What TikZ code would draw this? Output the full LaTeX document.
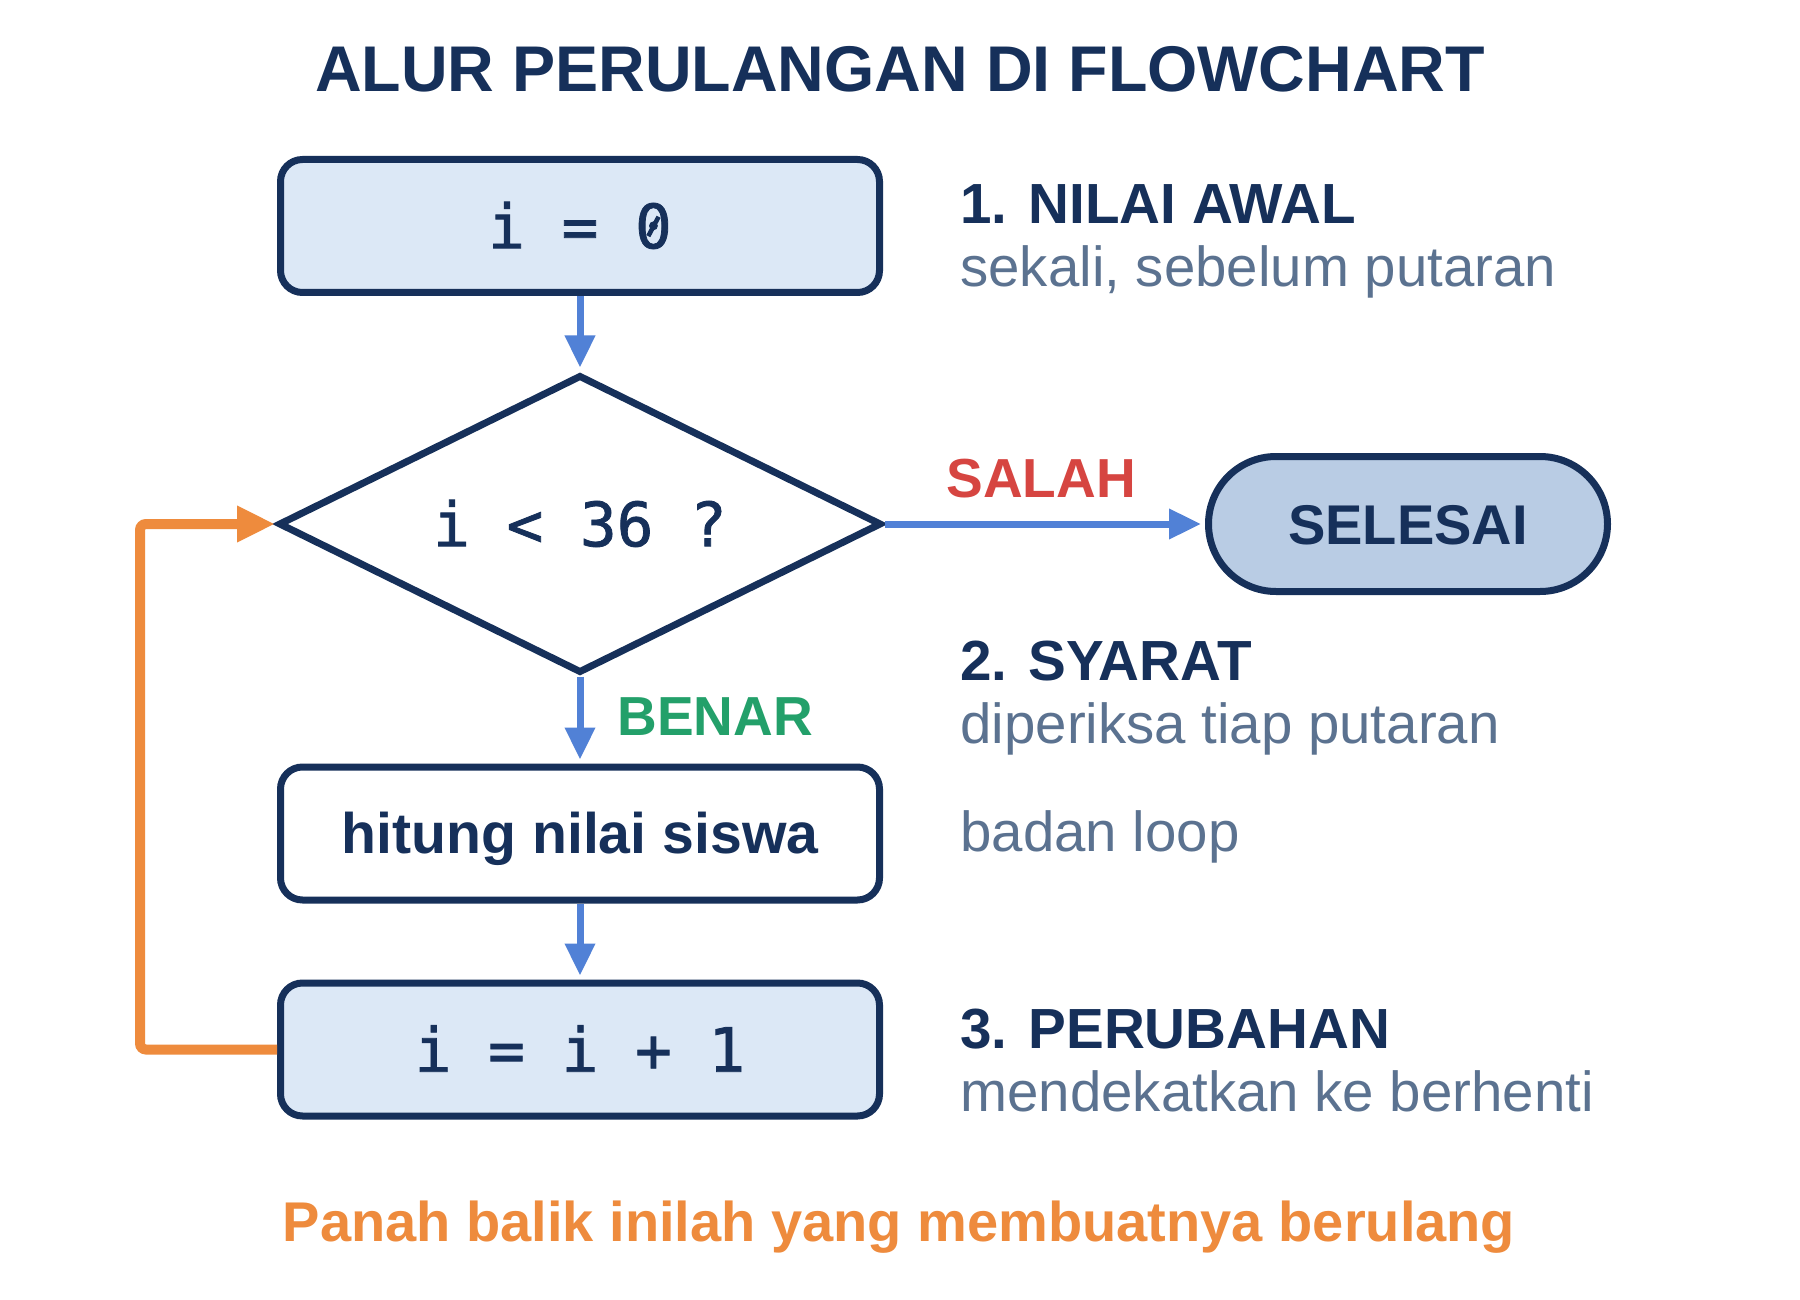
\documentclass[tikz,border=0pt]{standalone}
\usepackage{fontspec}
\usepackage{graphicx}
\setmainfont{Liberation Sans}
\newfontfamily\codefont[FakeBold=1.3]{DejaVu Sans Mono}
\usetikzlibrary{shapes.geometric,shapes.misc,arrows.meta}
\definecolor{navy}{HTML}{16305A}
\definecolor{fillA}{HTML}{DCE8F6}
\definecolor{fillB}{HTML}{B9CCE4}
\definecolor{flowblue}{HTML}{5181D6}
\definecolor{loopor}{HTML}{EE8B3D}
\definecolor{falsered}{HTML}{D64541}
\definecolor{truegreen}{HTML}{23A06A}
\definecolor{descgray}{HTML}{5B7290}
\newcommand\slzero{\rlap{0}\makebox[0.602em][c]{\raisebox{0.18em}{\rotatebox{62}{\rule{0.36em}{0.075em}}}}}
\begin{document}
\begin{tikzpicture}[x=0.5pt,y=-0.5pt,
  procbox/.style={draw=navy, line width=3.5pt, rounded corners=11pt,
    minimum width=299.5pt, minimum height=66.5pt, inner sep=0pt, text=navy},
  codetext/.style={font=\codefont\fontsize{30.5}{36}\selectfont, text height=22.2pt, text depth=0pt},
  boldtext/.style={font=\bfseries\fontsize{28}{34}\selectfont, text height=20pt, text depth=0pt},
  decbox/.style={draw=navy, line width=3.5pt, shape=diamond, aspect=2, fill=white,
    minimum width=301.5pt, minimum height=149pt, inner sep=0pt, text=navy},
  endbox/.style={draw=navy, line width=3.5pt, shape=rounded rectangle, fill=fillB,
    minimum width=199.5pt, minimum height=67.5pt, inner sep=0pt, text=navy},
  flow/.style={draw=flowblue, line width=3.5pt, -{Triangle[width=14.5pt,length=16pt]}},
  back/.style={draw=loopor, line width=5pt, rounded corners=3pt, -{Triangle[width=17pt,length=19pt]}},
  head/.style={anchor=base west, inner sep=0pt, text=navy, font=\bfseries\fontsize{28.3}{34}\selectfont},
  desc/.style={anchor=base west, inner sep=0pt, text=descgray, font=\fontsize{28.2}{34}\selectfont},
  branch/.style={anchor=base west, inner sep=0pt, font=\bfseries\fontsize{27.5}{32}\selectfont},
]
\useasboundingbox (0,0) rectangle (1800,1300);
\fill[white] (0,0) rectangle (1800,1300);

% title
\node[anchor=base, inner sep=0pt, text=navy, font=\bfseries\fontsize{32.3}{38}\selectfont]
  (title) at (900,92) {ALUR PERULANGAN DI FLOWCHART};

% flowchart nodes
\node[procbox, fill=fillA, codetext] (init) at (580,226) {i = \slzero};
\node[decbox, codetext] (dec) at (580,524) {i < 36 ?};
\node[endbox, boldtext] (done) at (1408,524) {SELESAI};
\node[procbox, fill=white, boldtext, font=\bfseries\fontsize{28.6}{34}\selectfont] (body) at (580,833.5) {hitung nilai siswa};
\node[procbox, fill=fillA, codetext] (inc) at (580,1049.5) {i = i + 1};

% connectors
\draw[flow, shorten >=2pt] (init.south) -- (dec.north);
\draw[flow, shorten >=2pt] (dec.east) -- (done.west);
\draw[flow, shorten >=2pt] (dec.south) -- (body.north);
\draw[flow, shorten >=2pt] (body.south) -- (inc.north);
\coordinate (loopx) at (140,0);
\draw[back] (inc.west) -- (inc.west -| loopx) -- (dec.west -| loopx) -- (dec.west);

% branch labels
\node[branch, text=falsered] (salah) at (946,497) {SALAH};
\node[branch, text=truegreen] (benar) at (617,735) {BENAR};

% annotations
\node[head] (h1) at (960,224) {1. NILAI AWAL};
\node[desc] (d1) at (960,287) {sekali, sebelum putaran};
\node[head] (h2) at (960,680) {2. SYARAT};
\node[desc] (d2) at (960,743) {diperiksa tiap putaran};
\node[desc] (d3) at (960,851) {badan loop};
\node[head] (h3) at (960,1048) {3. PERUBAHAN};
\node[desc] (d4) at (960,1111) {mendekatkan ke berhenti};

% footer
\node[anchor=base, inner sep=0pt, text=loopor, font=\bfseries\fontsize{28}{34}\selectfont]
  (foot) at (899,1241) {Panah balik inilah yang membuatnya berulang};
\end{tikzpicture}
\end{document}
